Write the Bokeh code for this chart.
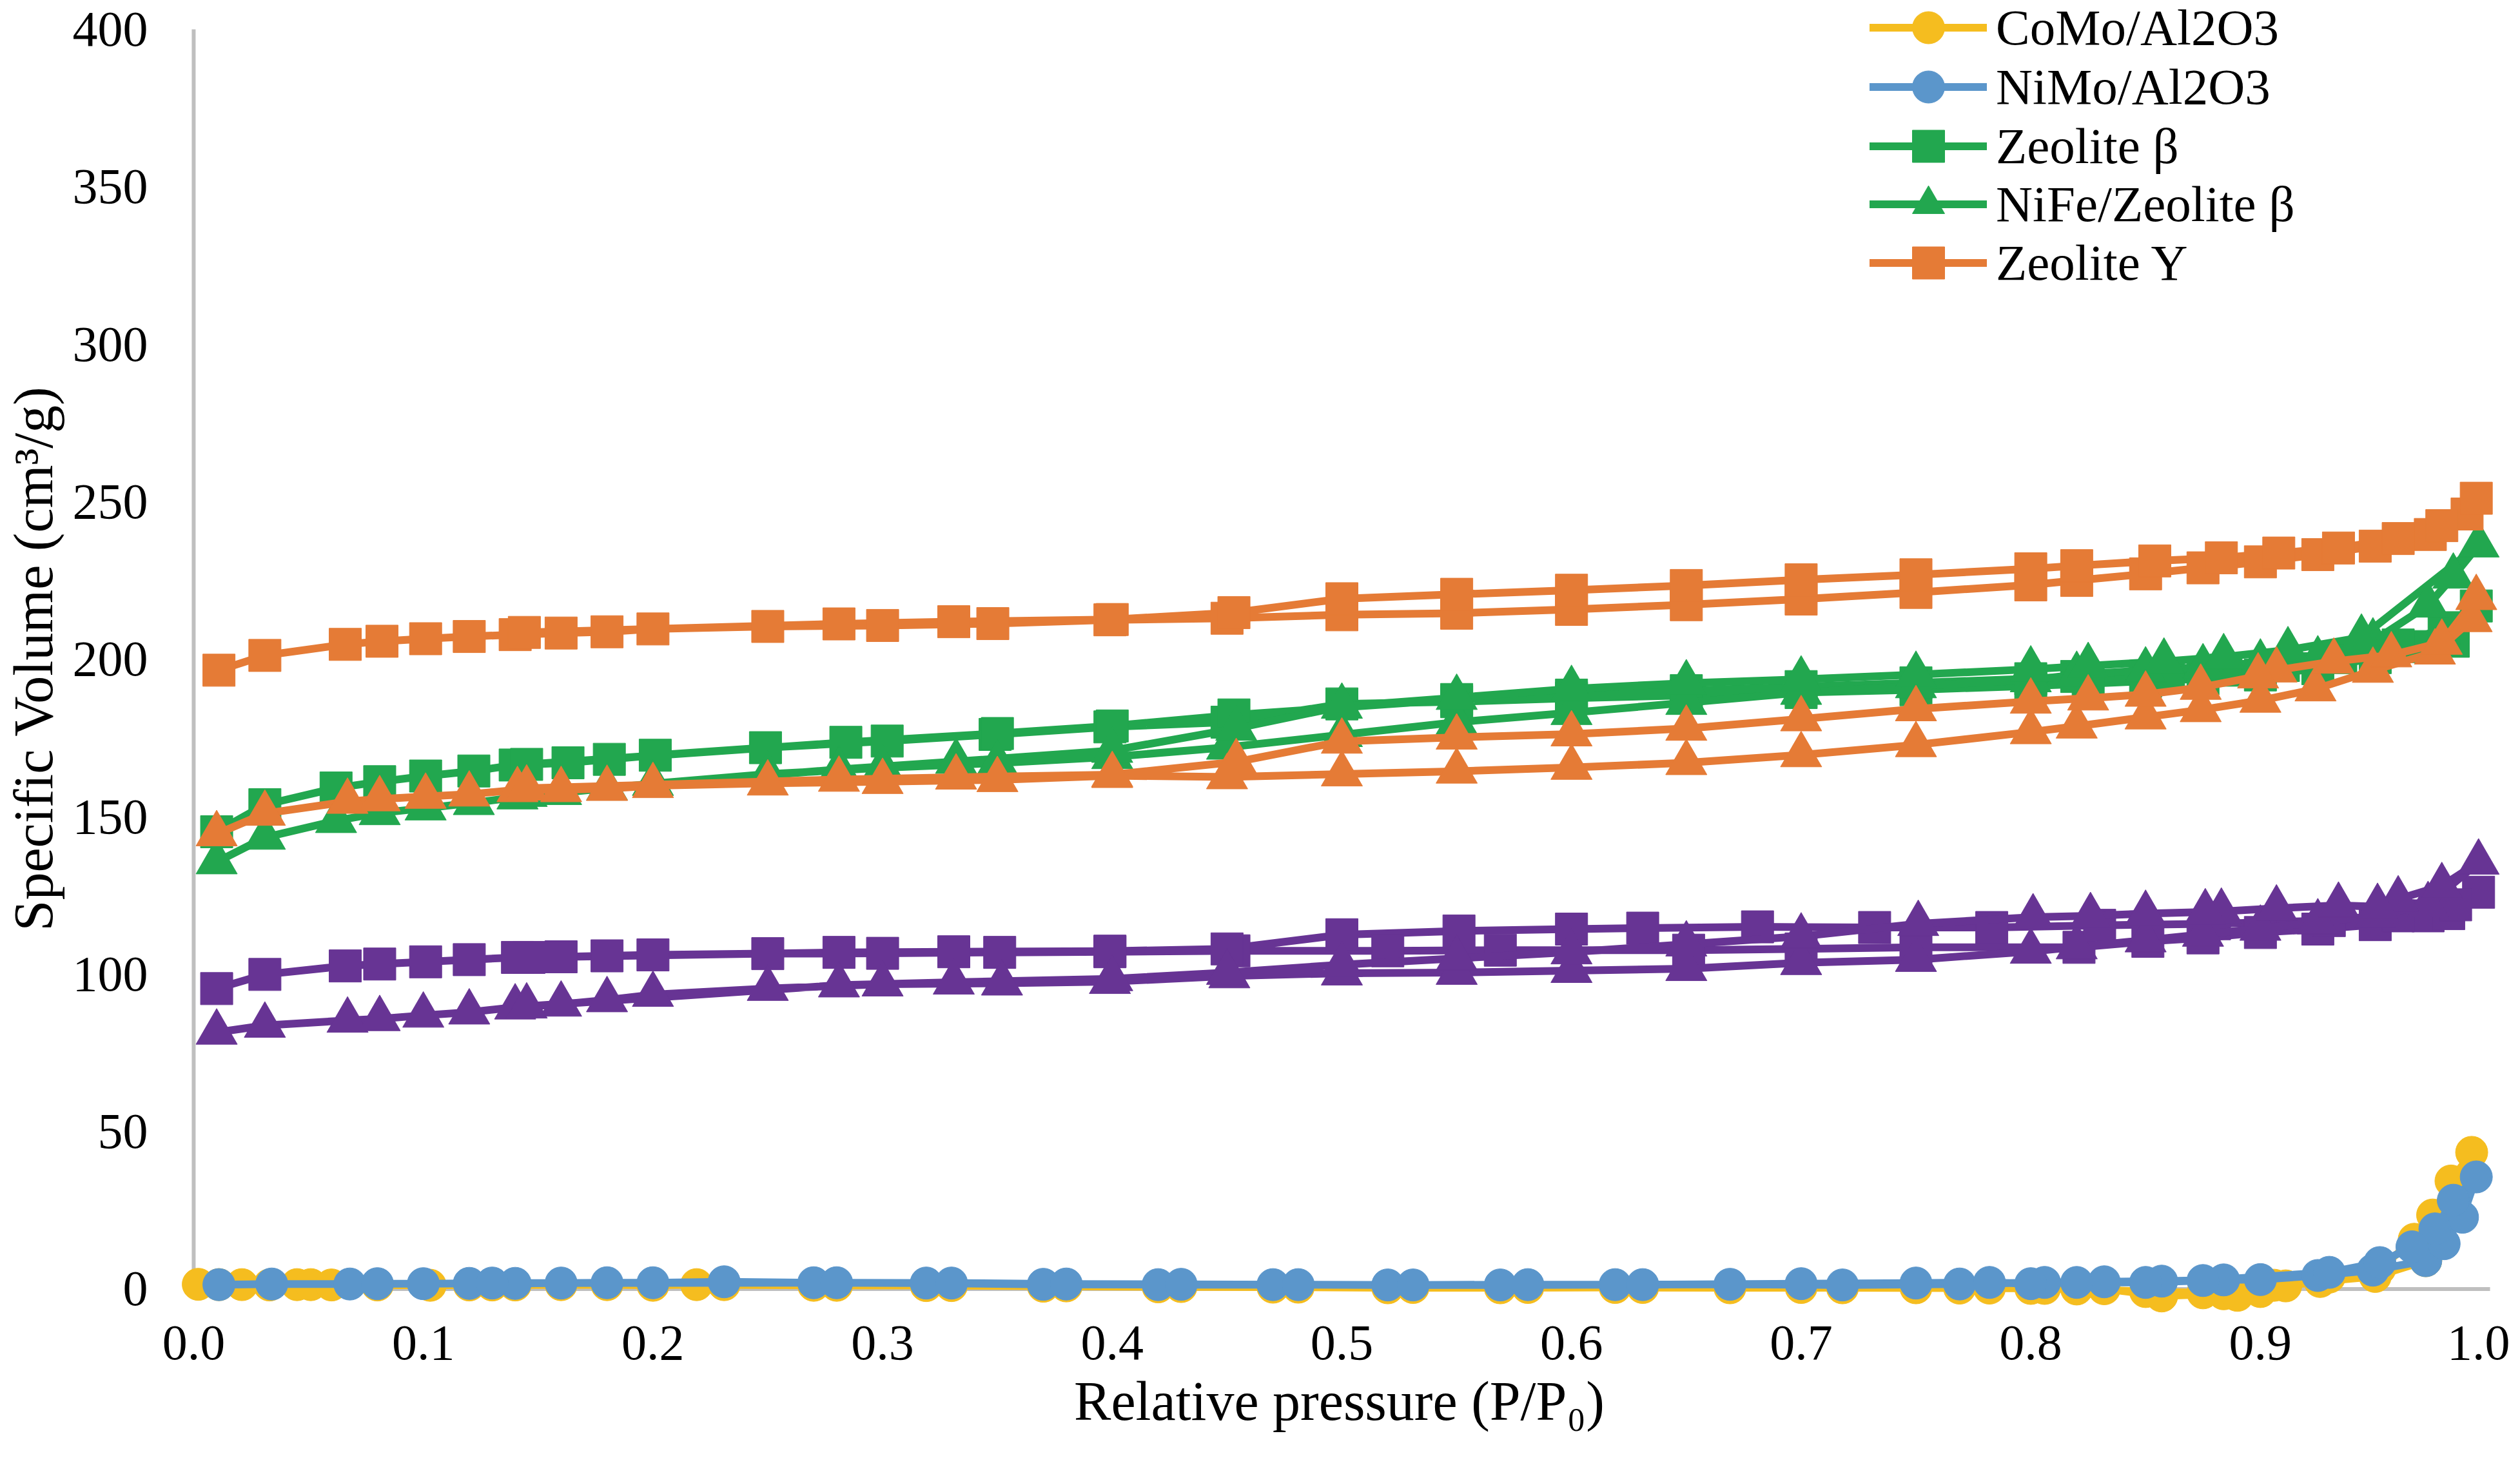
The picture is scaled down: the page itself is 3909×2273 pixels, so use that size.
from bokeh.plotting import figure
from bokeh.models import Range1d, FixedTicker, Legend, LegendItem, NumeralTickFormatter
from bokeh.embed import file_html
from bokeh.resources import INLINE

# ---------------- data (relative pressure P/P0, specific volume cm3/g) ----------------
x_ticks = [0.0, 0.1, 0.2, 0.3, 0.4, 0.5, 0.6, 0.7, 0.8, 0.9, 1.0]
y_ticks = [0, 50, 100, 150, 200, 250, 300, 350, 400]

# CoMo/Al2O3
como_ads_p = [0.002, 0.011, 0.021, 0.033, 0.045, 0.051, 0.060, 0.080, 0.103, 0.120, 0.140, 0.160, 0.180, 0.200, 0.219, 0.270, 0.319, 0.370, 0.420, 0.470, 0.520, 0.569, 0.619, 0.669, 0.718, 0.769, 0.806, 0.832, 0.857, 0.884, 0.900, 0.911, 0.926, 0.950, 0.972, 0.992]
como_ads_v = [1.5, 1.4, 1.4, 1.3, 1.4, 1.4, 1.3, 1.3, 1.2, 1.3, 1.3, 1.4, 1.4, 1.2, 1.4, 1.2, 1.1, 0.9, 0.7, 0.6, 0.4, 0.4, 0.5, 0.4, 0.4, 0.3, 0.2, 0.1, -2.2, -1.5, -0.8, 1.0, 2.4, 4.0, 9.0, 43.4]
como_des_p = [0.983, 0.975, 0.967, 0.952, 0.930, 0.906, 0.890, 0.875, 0.850, 0.820, 0.800, 0.782, 0.750, 0.700, 0.631, 0.581, 0.531, 0.481, 0.430, 0.380, 0.330, 0.280, 0.231, 0.130]
como_des_v = [34.3, 23.5, 15.8, 6.5, 3.8, 1.2, -2.0, -1.2, -0.8, 0.0, 0.2, 0.3, 0.4, 0.5, 0.5, 0.5, 0.5, 0.6, 0.8, 1.0, 1.1, 1.2, 1.4, 1.3]

# NiMo/Al2O3
nimo_ads_p = [0.011, 0.034, 0.068, 0.080, 0.100, 0.120, 0.140, 0.160, 0.180, 0.200, 0.231, 0.270, 0.319, 0.370, 0.420, 0.470, 0.520, 0.569, 0.619, 0.669, 0.718, 0.769, 0.806, 0.832, 0.857, 0.884, 0.900, 0.925, 0.949, 0.972, 0.980, 0.988, 0.994]
nimo_ads_v = [1.4, 1.6, 1.6, 1.7, 1.7, 1.8, 1.8, 1.9, 2.0, 2.0, 2.3, 2.0, 1.9, 1.5, 1.4, 1.4, 1.3, 1.3, 1.4, 1.5, 1.3, 1.6, 2.1, 2.3, 2.5, 2.9, 3.0, 4.3, 6.0, 9.0, 14.4, 22.8, 35.6]
nimo_des_p = [0.984, 0.976, 0.966, 0.952, 0.930, 0.875, 0.850, 0.820, 0.800, 0.782, 0.750, 0.700, 0.631, 0.581, 0.531, 0.481, 0.430, 0.380, 0.330, 0.280, 0.130]
nimo_des_v = [28.2, 19.1, 13.4, 8.4, 5.3, 2.7, 2.1, 2.1, 1.7, 2.1, 1.9, 1.7, 1.4, 1.4, 1.3, 1.4, 1.5, 1.6, 1.9, 2.0, 1.9]

# Zeolite beta
zb_ads_p = [0.010, 0.031, 0.062, 0.081, 0.101, 0.122, 0.140, 0.163, 0.181, 0.201, 0.249, 0.302, 0.349, 0.399, 0.450, 0.500, 0.550, 0.600, 0.650, 0.700, 0.750, 0.800, 0.825, 0.850, 0.875, 0.900, 0.925, 0.950, 0.973, 0.984, 0.994]
zb_ads_v = [145.2, 153.8, 159.1, 161.1, 162.9, 164.5, 166.4, 167.1, 168.2, 169.5, 171.9, 174.0, 176.1, 178.5, 180.0, 185.8, 186.5, 187.6, 188.5, 189.4, 190.3, 191.5, 192.2, 193.0, 193.8, 195.0, 197.0, 200.5, 204.0, 205.7, 216.9]
zb_des_p = [0.980, 0.960, 0.935, 0.910, 0.885, 0.860, 0.820, 0.800, 0.750, 0.700, 0.650, 0.600, 0.550, 0.453, 0.400, 0.350, 0.284, 0.145]
zb_des_v = [210.0, 204.5, 200.5, 198.0, 196.5, 195.5, 194.5, 193.8, 192.5, 191.3, 190.0, 188.6, 187.2, 182.3, 178.8, 176.4, 173.6, 166.6]

# NiFe/Zeolite beta
nzb_ads_p = [0.010, 0.031, 0.062, 0.081, 0.101, 0.122, 0.141, 0.160, 0.180, 0.200, 0.250, 0.300, 0.350, 0.400, 0.450, 0.500, 0.550, 0.600, 0.650, 0.700, 0.750, 0.800, 0.820, 0.850, 0.875, 0.900, 0.925, 0.949, 0.973, 0.984, 0.995]
nzb_ads_v = [135.6, 143.4, 148.7, 151.2, 152.7, 154.4, 156.2, 157.6, 159.0, 160.5, 163.5, 165.5, 167.0, 169.0, 172.0, 176.0, 180.0, 183.0, 186.2, 189.4, 191.5, 193.4, 195.1, 196.5, 197.5, 199.0, 200.0, 205.7, 217.1, 226.3, 236.2]
nzb_des_p = [0.944, 0.912, 0.884, 0.858, 0.825, 0.800, 0.750, 0.700, 0.650, 0.600, 0.550, 0.500, 0.454, 0.400, 0.332, 0.281, 0.145]
nzb_des_v = [206.9, 202.9, 200.7, 199.3, 197.9, 196.8, 195.1, 193.6, 192.4, 190.6, 187.8, 185.0, 178.0, 171.0, 167.5, 165.0, 157.0]

# Zeolite Y
zy_ads_p = [0.011, 0.031, 0.066, 0.082, 0.101, 0.120, 0.140, 0.160, 0.180, 0.200, 0.250, 0.300, 0.348, 0.399, 0.450, 0.500, 0.550, 0.600, 0.650, 0.700, 0.750, 0.800, 0.820, 0.850, 0.875, 0.900, 0.925, 0.950, 0.974, 0.990, 0.994]
zy_ads_v = [196.5, 201.2, 204.7, 205.7, 206.5, 207.2, 207.8, 208.3, 208.7, 209.6, 210.4, 210.7, 211.3, 212.5, 213.0, 214.1, 214.6, 215.8, 217.3, 219.1, 221.2, 223.6, 225.0, 227.1, 229.0, 230.9, 233.2, 235.9, 239.6, 246.1, 251.1]
zy_des_p = [0.979, 0.960, 0.934, 0.908, 0.883, 0.854, 0.820, 0.800, 0.750, 0.700, 0.650, 0.600, 0.550, 0.500, 0.453, 0.400, 0.331, 0.281, 0.144]
zy_des_v = [242.4, 238.3, 235.3, 233.7, 232.2, 231.2, 229.7, 228.7, 226.8, 225.2, 223.4, 221.9, 220.6, 219.2, 214.8, 212.6, 211.9, 211.2, 208.5]

# orange triangles (not in legend)
nzy_ads_p = [0.010, 0.031, 0.067, 0.081, 0.101, 0.120, 0.141, 0.160, 0.180, 0.200, 0.250, 0.300, 0.350, 0.400, 0.450, 0.500, 0.550, 0.600, 0.650, 0.700, 0.750, 0.800, 0.820, 0.850, 0.874, 0.900, 0.924, 0.949, 0.976, 0.992, 0.994]
nzy_ads_v = [144.5, 151.0, 154.8, 155.6, 156.4, 157.1, 158.5, 158.5, 158.9, 159.8, 160.6, 161.1, 161.7, 163.0, 162.6, 163.5, 164.4, 165.6, 167.1, 169.6, 172.8, 176.9, 178.7, 181.6, 183.9, 186.9, 190.5, 196.4, 202.2, 212.5, 219.5]
nzy_des_p = [0.979, 0.957, 0.932, 0.907, 0.899, 0.874, 0.850, 0.825, 0.800, 0.750, 0.700, 0.650, 0.600, 0.550, 0.500, 0.454, 0.400, 0.332, 0.281, 0.145]
nzy_des_v = [205.3, 201.3, 199.3, 196.5, 194.6, 191.0, 188.8, 187.6, 186.6, 184.2, 181.0, 178.0, 176.2, 175.2, 173.9, 167.4, 163.3, 162.5, 161.8, 159.0]

# purple squares (not in legend)
ps_ads_p = [0.010, 0.031, 0.066, 0.081, 0.101, 0.120, 0.141, 0.160, 0.180, 0.200, 0.250, 0.300, 0.351, 0.399, 0.453, 0.520, 0.569, 0.651, 0.700, 0.750, 0.821, 0.851, 0.875, 0.900, 0.925, 0.950, 0.973, 0.982, 0.995]
ps_ads_v = [95.4, 99.9, 102.6, 103.2, 103.9, 104.6, 105.3, 105.5, 105.8, 106.1, 106.5, 106.6, 106.9, 107.1, 107.4, 107.4, 107.6, 107.6, 108.0, 108.5, 108.5, 110.4, 111.5, 113.2, 114.3, 115.7, 118.5, 119.2, 126.0]
ps_des_p = [0.985, 0.960, 0.930, 0.880, 0.830, 0.783, 0.732, 0.681, 0.631, 0.600, 0.551, 0.500, 0.450, 0.399, 0.331, 0.281, 0.146]
ps_des_v = [122.0, 118.5, 117.0, 116.0, 115.5, 114.8, 114.8, 115.0, 114.6, 114.3, 113.7, 112.5, 108.0, 107.3, 107.1, 106.9, 105.3]

# purple triangles (not in legend)
pt_ads_p = [0.010, 0.031, 0.067, 0.081, 0.100, 0.120, 0.140, 0.160, 0.180, 0.200, 0.250, 0.300, 0.352, 0.399, 0.451, 0.500, 0.550, 0.600, 0.650, 0.700, 0.750, 0.800, 0.820, 0.850, 0.875, 0.900, 0.925, 0.950, 0.973, 0.995]
pt_ads_v = [81.5, 83.7, 85.3, 85.8, 86.9, 87.9, 89.5, 90.4, 91.8, 93.5, 95.4, 96.8, 97.1, 97.6, 99.4, 100.3, 100.5, 101.1, 101.7, 103.6, 104.6, 107.2, 108.6, 110.8, 112.6, 114.5, 116.5, 118.5, 122.0, 135.5]
pt_des_p = [0.979, 0.960, 0.951, 0.934, 0.907, 0.883, 0.876, 0.850, 0.826, 0.801, 0.751, 0.700, 0.650, 0.600, 0.550, 0.500, 0.450, 0.400, 0.331, 0.281, 0.145]
pt_des_v = [128.0, 123.8, 121.4, 121.8, 120.9, 119.9, 119.7, 119.2, 118.5, 118.1, 116.0, 112.0, 109.5, 107.0, 105.0, 103.0, 100.5, 98.5, 97.4, 96.5, 89.8]

legend_labels = ["CoMo/Al2O3", "NiMo/Al2O3", "Zeolite \u03b2", "NiFe/Zeolite \u03b2", "Zeolite Y"]

# ---------------- styling ----------------
FONT = "Liberation Serif"
YELLOW = "#F5BD1F"
BLUE = "#5B96CB"
GREEN = "#22A74F"
ORANGE = "#E57B36"
PURPLE = "#673494"
GRAY = "#BFBFBF"
LW = 12

p = figure(width=3893, height=2253,
           x_range=Range1d(-0.008125, 1.005885), y_range=Range1d(-8.70, 409.21),
           output_backend="svg", toolbar_location=None,
           min_border_left=264, min_border_right=10, min_border_top=0, min_border_bottom=211)
p.xgrid.visible = False
p.ygrid.visible = False
p.outline_line_color = None
p.background_fill_color = "white"
p.border_fill_color = "white"

for ax in (p.xaxis, p.yaxis):
    ax.axis_line_color = None
    ax.major_tick_line_color = None
    ax.minor_tick_line_color = None
    ax.major_tick_out = 0
    ax.major_tick_in = 0
    ax.minor_tick_out = 0
    ax.minor_tick_in = 0
    ax.major_label_text_font = FONT
    ax.major_label_text_font_size = "78px"
    ax.major_label_text_color = "black"
    ax.axis_label_text_font = FONT
    ax.axis_label_text_font_size = "86px"
    ax.axis_label_text_font_style = "normal"
    ax.axis_label_text_color = "black"

p.xaxis.ticker = FixedTicker(ticks=x_ticks)
p.xaxis.formatter = NumeralTickFormatter(format="0.0")
p.xaxis.major_label_standoff = 15
p.xaxis.axis_label = "Relative pressure (P/P\u2080)"
p.xaxis.axis_label_standoff = 14

p.yaxis.ticker = FixedTicker(ticks=y_ticks)
p.yaxis.major_label_standoff = 42
p.yaxis.axis_label = "Specific Volume (cm\u00b3/g)"
p.yaxis.axis_label_standoff = 10

# axis lines (gray) from the tick extents
p.segment(x0=[x_ticks[0], x_ticks[0]], y0=[y_ticks[0], y_ticks[0]],
          x1=[x_ticks[-1], x_ticks[0]], y1=[y_ticks[0], y_ticks[-1]],
          line_color=GRAY, line_width=6)


def series(ads_p, ads_v, des_p, des_v, color, marker, size):
    xs = ads_p + des_p
    ys = ads_v + des_v
    ln = p.line(xs, ys, line_color=color, line_width=LW, line_join="round", line_cap="round")
    sc = p.scatter(xs, ys, marker=marker, size=size, fill_color=color, line_color=color, line_width=1)
    return [ln, sc]


r_como = series(como_ads_p, como_ads_v, como_des_p, como_des_v, YELLOW, "circle", 50)
r_nimo = series(nimo_ads_p, nimo_ads_v, nimo_des_p, nimo_des_v, BLUE, "circle", 50)
r_ps = series(ps_ads_p, ps_ads_v, ps_des_p, ps_des_v, PURPLE, "square", 50)
r_pt = series(pt_ads_p, pt_ads_v, pt_des_p, pt_des_v, PURPLE, "triangle", 64)
r_zb = series(zb_ads_p, zb_ads_v, zb_des_p, zb_des_v, GREEN, "square", 50)
r_nzb = series(nzb_ads_p, nzb_ads_v, nzb_des_p, nzb_des_v, GREEN, "triangle", 64)
r_zy = series(zy_ads_p, zy_ads_v, zy_des_p, zy_des_v, ORANGE, "square", 50)
r_nzy = series(nzy_ads_p, nzy_ads_v, nzy_des_p, nzy_des_v, ORANGE, "triangle", 64)

# one legend box per entry (rows ~91 px apart, key marker 0.4*125 = 50 px)
legend_renderers = [r_como, r_nimo, r_zb, r_nzb, r_zy]
row_bottoms = [1937, 1845, 1753, 1663, 1572]
for lab, rends, vy in zip(legend_labels, legend_renderers, row_bottoms):
    lg = Legend(items=[LegendItem(label=lab, renderers=rends)], location=(2629, vy),
                glyph_width=182, glyph_height=125, padding=0, margin=0, spacing=0,
                label_standoff=14, label_text_font=FONT, label_text_font_size="79px",
                label_text_color="black", background_fill_alpha=0, border_line_alpha=0)
    p.add_layout(lg)

open("out.html", "w").write(file_html(p, INLINE))
